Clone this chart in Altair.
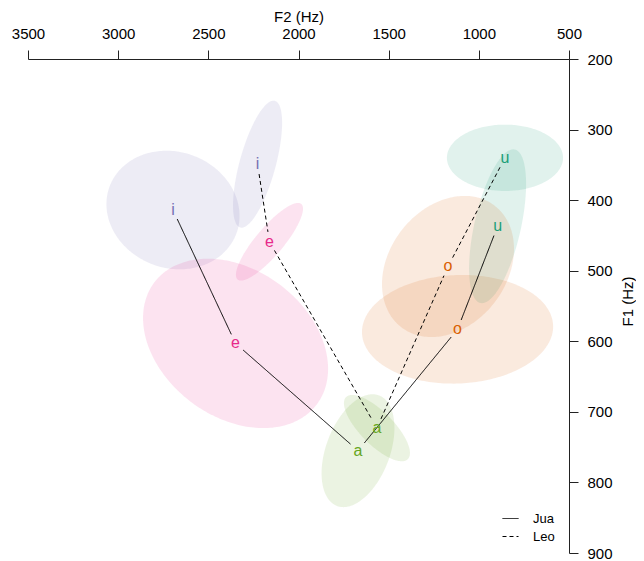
import altair as alt
import numpy as np
import pandas as pd

vowels = ["i", "e", "a", "o", "u"]
speakers = ["Jua", "Leo"]
vowel_colors = ["#7570B3", "#E7298A", "#66A61E", "#D95F02", "#1B9E77"]

# vowel means (F2, F1) in Hz
jua_f2 = [2696, 2349, 1670, 1118, 896]
jua_f1 = [414, 603, 755, 583, 437]
leo_f2 = [2227, 2161, 1565, 1171, 855]
leo_f1 = [349, 459, 723, 494, 340]

# ellipse half-extents (Hz) and F2/F1 correlation
jua_ext_f2 = [369, 513, 202, 530, 158]
jua_ext_f1 = [84, 120, 80, 77, 109]
jua_rho = [-0.1, -0.3, 0.4, 0.05, 0.55]
leo_ext_f2 = [136, 186, 183, 366, 322]
leo_ext_f1 = [90, 55, 47, 100, 47]
leo_rho = [0.65, 0.85, -0.75, 0.25, 0.0]

x_ticks = [3500, 3000, 2500, 2000, 1500, 1000, 500]
y_ticks = [200, 300, 400, 500, 600, 700, 800, 900]

W, H = 541, 494
X_DOM = [500, 3500]
Y_DOM = [200, 900]

means = {
    "Jua": (jua_f2, jua_f1, jua_ext_f2, jua_ext_f1, jua_rho),
    "Leo": (leo_f2, leo_f1, leo_ext_f2, leo_ext_f1, leo_rho),
}

# ellipse outlines as areas (x, lower y, upper y)
t = np.linspace(0, np.pi, 120)
ell_rows = []
for sp, (f2, f1, e2, e1, rh) in means.items():
    for k, v in enumerate(vowels):
        s = np.sqrt(1 - rh[k] ** 2)
        for tt in t:
            x = f2[k] + e2[k] * np.cos(tt)
            a = f1[k] + e1[k] * (rh[k] * np.cos(tt) - s * np.sin(tt))
            b = f1[k] + e1[k] * (rh[k] * np.cos(tt) + s * np.sin(tt))
            ell_rows.append({"key": sp + v, "vowel": v, "F2": x, "lo": a, "hi": b})
ell_df = pd.DataFrame(ell_rows)

# labels
lab_rows = []
for sp, (f2, f1, *_r) in means.items():
    for k, v in enumerate(vowels):
        lab_rows.append({"speaker": sp, "vowel": v, "F2": f2[k], "F1": f1[k]})
lab_df = pd.DataFrame(lab_rows)

# connecting segments, shortened near labels
kx = W / (X_DOM[1] - X_DOM[0])
ky = H / (Y_DOM[1] - Y_DOM[0])
gap = 10
seg_rows = []
for sp, (f2, f1, *_r) in means.items():
    for k in range(len(vowels) - 1):
        dx, dy = f2[k + 1] - f2[k], f1[k + 1] - f1[k]
        d = np.hypot(dx * kx, dy * ky)
        fr = gap / d
        seg_rows.append({
            "speaker": sp,
            "F2": f2[k] + dx * fr, "F1": f1[k] + dy * fr,
            "F2e": f2[k + 1] - dx * fr, "F1e": f1[k + 1] - dy * fr,
        })
seg_df = pd.DataFrame(seg_rows)

FONT = "Liberation Sans"
xscale = alt.Scale(domain=X_DOM, reverse=True, nice=False, zero=False)
yscale = alt.Scale(domain=Y_DOM, reverse=True, nice=False, zero=False)
xaxis = alt.Axis(orient="top", values=x_ticks, title="F2 (Hz)", grid=False,
                 tickSize=9, labelPadding=9, titlePadding=2, labelFlush=False,
                 labelOverlap=False, format="d")
yaxis = alt.Axis(orient="right", values=y_ticks, title="F1 (Hz)", grid=False,
                 tickSize=9, labelPadding=9, labelFlush=False, labelOverlap=False,
                 titleAngle=270, titleX=58, titleY=242, titleAlign="center",
                 titleBaseline="middle", format="d")
cscale = alt.Scale(domain=vowels, range=vowel_colors)

ellipses = alt.Chart(ell_df).mark_area(opacity=0.13, strokeWidth=0).encode(
    x=alt.X("F2:Q", scale=xscale, axis=xaxis),
    y=alt.Y("lo:Q", scale=yscale, axis=yaxis),
    y2="hi:Q",
    color=alt.Color("vowel:N", scale=cscale, legend=None),
    detail="key:N",
)

lines = alt.Chart(seg_df).mark_rule(color="black", strokeWidth=1).encode(
    x=alt.X("F2:Q", scale=xscale, axis=xaxis),
    y=alt.Y("F1:Q", scale=yscale, axis=yaxis),
    x2="F2e:Q",
    y2="F1e:Q",
    strokeDash=alt.StrokeDash(
        "speaker:N",
        scale=alt.Scale(domain=speakers, range=[[1, 0], [4, 3]]),
        legend=alt.Legend(title=None, orient="none", legendX=474, legendY=451,
                          symbolType="stroke", symbolSize=256, symbolStrokeWidth=1,
                          symbolStrokeColor="black", labelFontSize=13,
                          labelOffset=14, rowPadding=2, padding=0,
                          labelFont=FONT, labelColor="black"),
    ),
)

texts = alt.Chart(lab_df).mark_text(fontSize=16, font=FONT, baseline="middle",
                                    align="center").encode(
    x=alt.X("F2:Q", scale=xscale, axis=xaxis),
    y=alt.Y("F1:Q", scale=yscale, axis=yaxis),
    text="vowel:N",
    color=alt.Color("vowel:N", scale=cscale, legend=None),
)

chart = alt.layer(ellipses, lines, texts).properties(
    width=W, height=H,
    autosize=alt.AutoSizeParams(type="none"),
    padding={"left": 20, "top": 51, "right": 67, "bottom": 10},
).configure_view(stroke=None).configure_axis(
    labelFont=FONT, titleFont=FONT, labelFontSize=15, titleFontSize=15,
    titleFontWeight="normal", labelColor="black", titleColor="black",
    domainColor="#222", tickColor="#222", domainWidth=1, tickWidth=1,
)

chart.save("out.html", embed_options={"renderer": "svg", "actions": False})
